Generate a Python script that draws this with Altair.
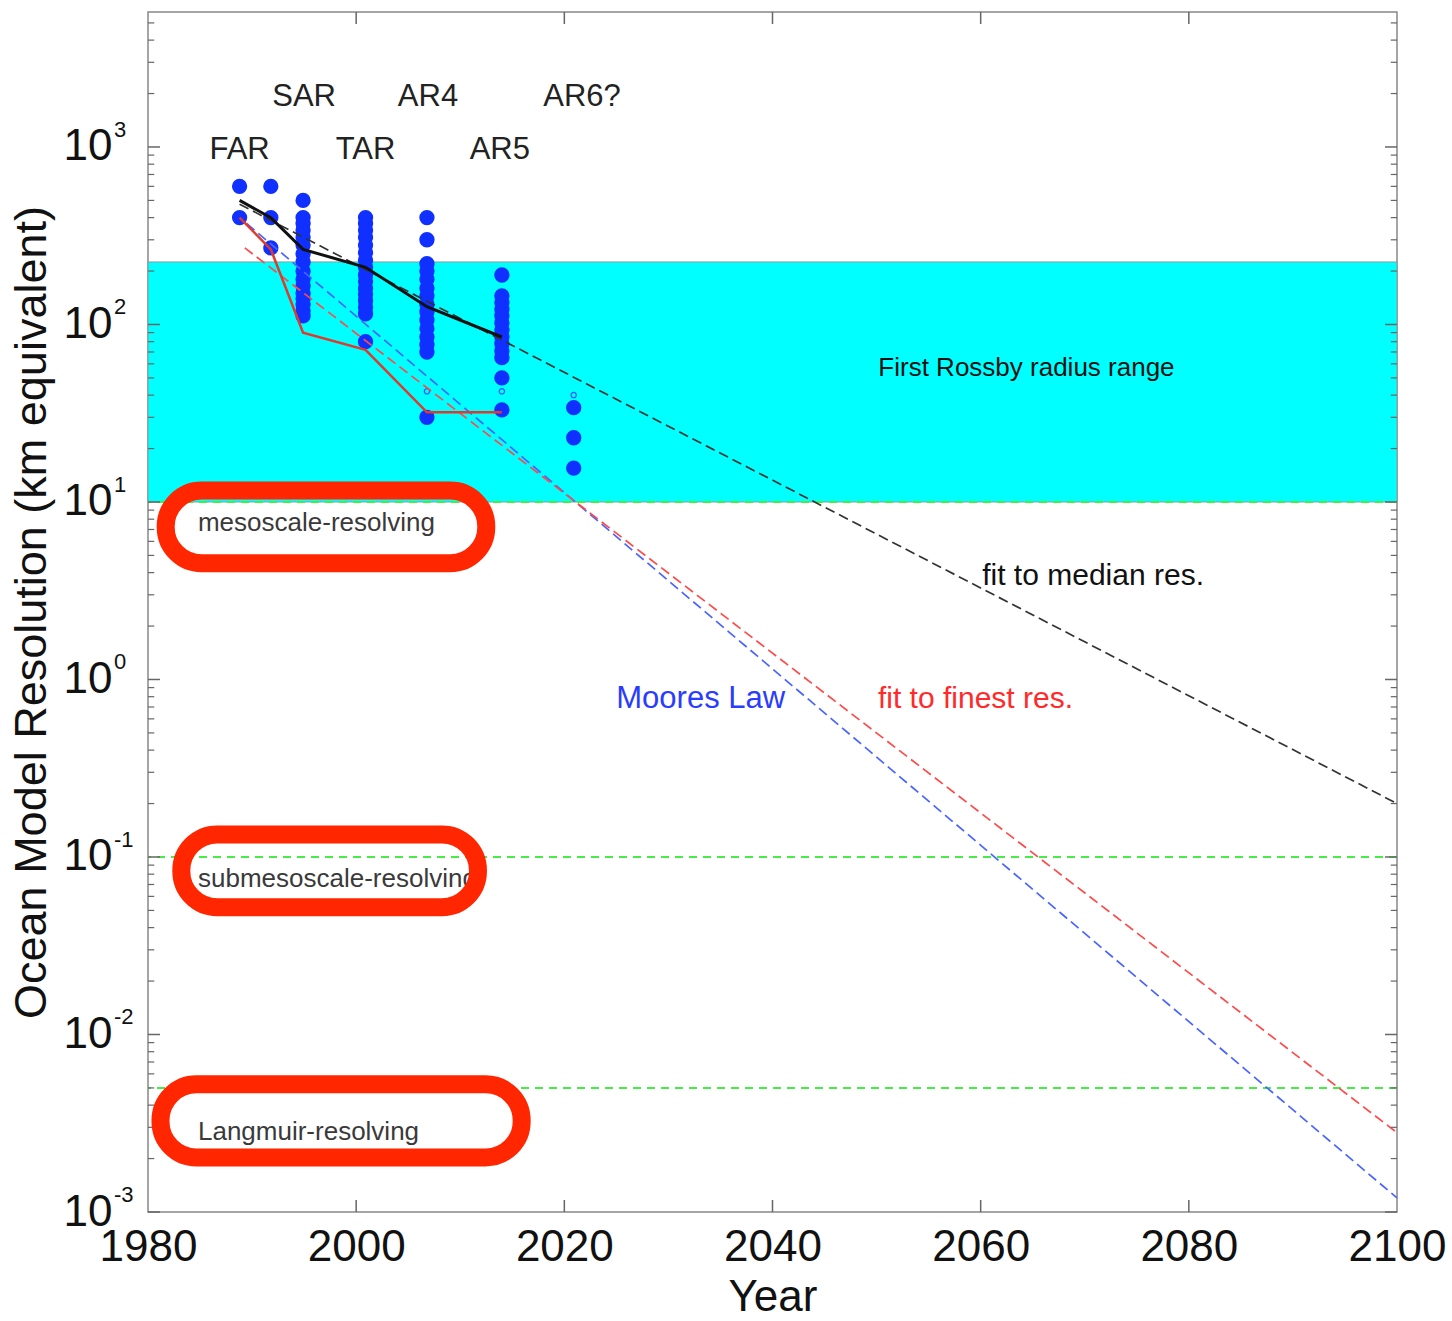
import altair as alt
import pandas as pd

FONT = "Liberation Sans"

# ---------------- data ----------------
col_years = [1988.8, 1991.8, 1994.9, 2000.9, 2006.8, 2014.0, 2020.9]
col_res = [
    [600, 400],
    [600, 400, 270],
    [500, 400, 370, 340, 310, 280, 250, 225, 200, 180, 165, 150, 140, 130, 120, 112],
    [400, 370, 340, 310, 280, 255, 230, 210, 190, 175, 160, 148, 136, 125, 115, 80],
    [400, 300, 220, 200, 180, 160, 145, 130, 118, 106, 95, 85, 77, 70, 30],
    [190, 145, 133, 122, 112, 102, 93, 85, 78, 71, 65, 50, 33],
    [34, 23, 15.5],
]
open_years = [2006.8, 2014.0, 2020.9]
open_res = [42, 42, 40]

line_years = [1988.8, 1991.8, 1994.9, 2000.9, 2006.8, 2014.0]
median_res = [500, 400, 265, 210, 126, 85]
finest_res = [400, 265, 90, 72, 32, 32]

fit_median_years = [1988.8, 2100]
fit_median_res = [476, 0.2]
moore_years = [1989.5, 2100]
moore_res = [370, 0.0012]
fit_finest_years = [1989.3, 2100]
fit_finest_res = [270, 0.0028]

band_lo = [10]
band_hi = [225]
green_levels = [10, 0.1, 0.005]

ar_labels = ["FAR", "SAR", "TAR", "AR4", "AR5", "AR6?"]
ar_years = [1988.8, 1995.0, 2000.9, 2006.9, 2013.8, 2021.7]
ar_res = [1000, 2000, 1000, 2000, 1000, 2000]

regime_labels = ["mesoscale-resolving", "submesoscale-resolving", "Langmuir-resolving"]
regime_year = [1984.8, 1984.8, 1984.8]
regime_res = [7.8, 0.077, 0.0029]

oval_x1 = [1981.7, 1983.2, 1981.2]
oval_x2 = [2012.5, 2011.7, 2015.9]
oval_lo = [4.52, 0.0521, 0.00203]
oval_hi = [11.6, 0.134, 0.00524]

y_tick_vals = [0.001, 0.01, 0.1, 1, 10, 100, 1000]
y_exp_labels = ["-3", "-2", "-1", "0", "1", "2", "3"]
minor_mult = [2, 3, 4, 5, 6, 7, 8, 9]
x_tick_vals = [1980, 2000, 2020, 2040, 2060, 2080, 2100]
x_inner_ticks = [2000, 2020, 2040, 2060, 2080]

YMIN, YMAX = 0.001, 5760
X_TITLE = "Year"
Y_TITLE = "Ocean Model Resolution (km equivalent)"

# ---------------- tables ----------------
dots = pd.DataFrame(
    [{"year": y, "res": r} for y, rs in zip(col_years, col_res) for r in rs]
)
opens = pd.DataFrame({"year": open_years, "res": open_res})
lines = pd.DataFrame({"year": line_years, "median": median_res, "finest": finest_res})
fit_m = pd.DataFrame({"year": fit_median_years, "res": fit_median_res})
fit_b = pd.DataFrame({"year": moore_years, "res": moore_res})
fit_r = pd.DataFrame({"year": fit_finest_years, "res": fit_finest_res})
band = pd.DataFrame({"x1": [1980], "x2": [2100], "lo": band_lo, "hi": band_hi})
greens = pd.DataFrame({"v": green_levels})
ars = pd.DataFrame({"label": ar_labels, "year": ar_years, "res": ar_res})
regimes = pd.DataFrame({"label": regime_labels, "year": regime_year, "res": regime_res})
ovals = pd.DataFrame({"x1": oval_x1, "x2": oval_x2, "lo": oval_lo, "hi": oval_hi})
exps = pd.DataFrame({"v": y_tick_vals, "e": y_exp_labels})
major_y = pd.DataFrame({"v": y_tick_vals})
minor_y = pd.DataFrame(
    {"v": [m * t for t in y_tick_vals for m in minor_mult if m * t < YMAX]}
)
xt = pd.DataFrame({"x": x_inner_ticks})

xs = alt.Scale(domain=[1980, 2100], nice=False, zero=False)
ys = alt.Scale(type="log", domain=[YMIN, YMAX], nice=False)

x_axis = alt.Axis(
    values=x_tick_vals, format="d", ticks=False, domain=False, grid=False,
    labelFont=FONT, labelFontSize=44, labelColor="#111", labelPadding=13,
    labelFlush=False, labelOverlap=False,
    titleFont=FONT, titleFontSize=44, titleFontWeight="normal", titleColor="#111",
    titleX=624.5, titleY=85, titleAlign="center", titleBaseline="middle",
)
y_axis = alt.Axis(
    values=y_tick_vals, labelExpr="'10'", ticks=False, domain=False,
    grid=False, labelFont=FONT, labelFontSize=44, labelColor="#111",
    labelAlign="right", labelBaseline="middle", labelPadding=36, labelOverlap=False,
    titleFont=FONT, titleFontSize=45, titleFontWeight="normal", titleColor="#111",
    titleX=-117, titleY=600, titleAngle=270, titleAlign="center",
    titleBaseline="middle",
)


def XF(f):
    return alt.X(f, scale=xs, axis=x_axis, title=X_TITLE)


def YF(f):
    return alt.Y(f, scale=ys, axis=y_axis, title=Y_TITLE)


def XD(v):
    return alt.XDatum(v, type="quantitative", scale=xs, axis=x_axis, title=X_TITLE)


def YD(v):
    return alt.YDatum(v, type="quantitative", scale=ys, axis=y_axis, title=Y_TITLE)


base_band = alt.Chart(band).mark_rect(color="#00ffff", stroke="#8a9a9a", strokeWidth=1).encode(
    x=XF("x1:Q"), x2="x2:Q", y=YF("lo:Q"), y2="hi:Q",
)

green = alt.Chart(greens).mark_rule(color="#44ee44", strokeWidth=2, strokeDash=[8, 6]).encode(
    y=YF("v:Q")
)

dot_layer = alt.Chart(dots).mark_circle(size=235, color="#1030ff", opacity=1).encode(
    x=XF("year:Q"), y=YF("res:Q")
)
open_layer = alt.Chart(opens).mark_point(
    size=28, filled=False, color="#3355ff", strokeWidth=1.2, opacity=1
).encode(x=XF("year:Q"), y=YF("res:Q"))


def dashed(df, color):
    return alt.Chart(df).mark_line(color=color, strokeWidth=1.7, strokeDash=[10, 5]).encode(
        x=XF("year:Q"), y=YF("res:Q")
    )


fit_black = dashed(fit_m, "#333333")
fit_blue = dashed(fit_b, "#4a64ff")
fit_red = dashed(fit_r, "#ff4a4a")

median_line = alt.Chart(lines).mark_line(color="#111111", strokeWidth=3).encode(
    x=XF("year:Q"), y=YF("median:Q")
)
finest_line = alt.Chart(lines).mark_line(color="#e03a2c", strokeWidth=2.5).encode(
    x=XF("year:Q"), y=YF("finest:Q")
)

ar_text = alt.Chart(ars).mark_text(
    font=FONT, fontSize=31, color="#222", align="center", baseline="middle", dy=3
).encode(x=XF("year:Q"), y=YF("res:Q"), text="label:N")

regime_text = alt.Chart(regimes).mark_text(
    font=FONT, fontSize=26, color="#3a3a3a", align="left", baseline="middle", dy=2
).encode(x=XF("year:Q"), y=YF("res:Q"), text="label:N")


def note(txt, year, res, color, size):
    return alt.Chart(pd.DataFrame({"year": [year], "res": [res], "t": [txt]})).mark_text(
        font=FONT, fontSize=size, color=color, align="center", baseline="middle", dy=2
    ).encode(x=XF("year:Q"), y=YF("res:Q"), text="t:N")


rossby = note("First Rossby radius range", 2064.4, 58, "#111", 26)
med_note = note("fit to median res.", 2070.8, 3.92, "#111", 30)
moore_note = note("Moores Law", 2033.1, 0.794, "#2a3cff", 31)
finest_note = note("fit to finest res.", 2059.5, 0.794, "#ff2a2a", 30)

exp_text = alt.Chart(exps).mark_text(
    font=FONT, fontSize=22, color="#111", align="left", baseline="middle", dx=-34, dy=-17
).encode(x=XD(1980), y=YF("v:Q"), text="e:N")

TICK = "#666666"
left_major = alt.Chart(major_y).mark_rule(color=TICK, strokeWidth=1.5).encode(
    x=XD(1980), x2=alt.X2Datum(1981.15), y=YF("v:Q")
)
right_major = alt.Chart(major_y).mark_rule(color=TICK, strokeWidth=1.5).encode(
    x=XD(2098.85), x2=alt.X2Datum(2100), y=YF("v:Q")
)
left_minor = alt.Chart(minor_y).mark_rule(color=TICK, strokeWidth=1.2).encode(
    x=XD(1980), x2=alt.X2Datum(1980.6), y=YF("v:Q")
)
right_minor = alt.Chart(minor_y).mark_rule(color=TICK, strokeWidth=1.2).encode(
    x=XD(2099.4), x2=alt.X2Datum(2100), y=YF("v:Q")
)
bottom_ticks = alt.Chart(xt).mark_rule(color=TICK, strokeWidth=1.5).encode(
    x=XF("x:Q"), y=YD(YMIN), y2=alt.Y2Datum(0.0011685)
)
top_ticks = alt.Chart(xt).mark_rule(color=TICK, strokeWidth=1.5).encode(
    x=XF("x:Q"), y=YD(4929), y2=alt.Y2Datum(YMAX)
)

oval_layer = alt.Chart(ovals).mark_rect(
    fill="white", fillOpacity=0, stroke="#ff2600", strokeWidth=18, cornerRadius=36
).encode(x=XF("x1:Q"), x2="x2:Q", y=YF("lo:Q"), y2="hi:Q")

chart = alt.layer(
    base_band, green, dot_layer, open_layer, fit_black, fit_blue, fit_red,
    median_line, finest_line, ar_text, regime_text, rossby, med_note, moore_note,
    finest_note, exp_text, left_major, right_major, left_minor, right_minor,
    bottom_ticks, top_ticks, oval_layer,
).properties(
    width=1249, height=1200,
    padding={"left": 148, "top": 12, "right": 55, "bottom": 109},
    autosize=alt.AutoSizeParams(type="none"),
    background="white",
).configure_view(stroke="#888888", strokeWidth=1.5)

chart.save("out.html", embed_options={"renderer": "svg", "actions": False})
